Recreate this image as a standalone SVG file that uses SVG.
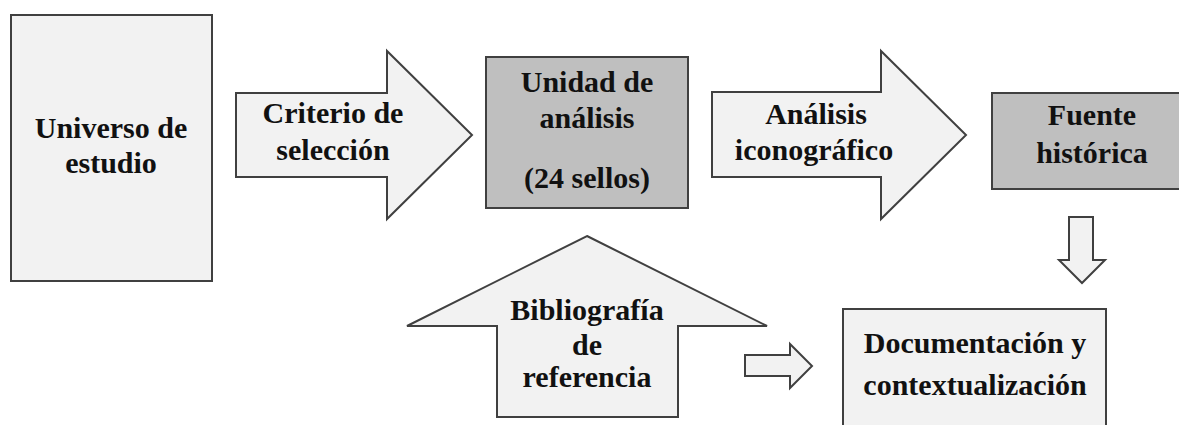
<svg xmlns="http://www.w3.org/2000/svg" width="1179" height="425" viewBox="0 0 1179 425">
<style>
.light{fill:#f2f2f2;stroke:#404040;stroke-width:2;stroke-linejoin:miter}
.dark{fill:#bfbfbf;stroke:#404040;stroke-width:2}
.t{font-family:'Liberation Serif','DejaVu Serif',serif;font-weight:700;font-size:30px;fill:#111;text-anchor:middle}
</style>
<rect width="1179" height="425" fill="#ffffff"/>
<g id="universo">
<rect class="light" x="11" y="15" width="201" height="266"/>
<text class="t" x="111" y="138">Universo de</text>
<text class="t" x="111" y="173">estudio</text>
</g>
<g id="criterio">
<polygon class="light" points="236,93 387,93 387,51 472,135 387,219 387,177 236,177"/>
<text class="t" x="333" y="123">Criterio de</text>
<text class="t" x="333" y="160">selección</text>
</g>
<g id="unidad">
<rect class="dark" x="486" y="57" width="202" height="151"/>
<text class="t" x="587" y="92">Unidad de</text>
<text class="t" x="587" y="128">análisis</text>
<text class="t" x="587" y="188">(24 sellos)</text>
</g>
<g id="analisis">
<polygon class="light" points="712,92 881,92 881,51 966,135 881,219 881,177 712,177"/>
<text class="t" x="816" y="124">Análisis</text>
<text class="t" x="814" y="160">iconográfico</text>
</g>
<g id="fuente">
<rect class="dark" x="992" y="93" width="200" height="96"/>
<text class="t" x="1092" y="125">Fuente</text>
<text class="t" x="1092" y="163">histórica</text>
</g>
<g id="bibliografia">
<polygon class="light" points="587,236 767,326 678,326 678,417 497,417 497,326 407,326"/>
<text class="t" x="587" y="320">Bibliografía</text>
<text class="t" x="587" y="355">de</text>
<text class="t" x="587" y="387">referencia</text>
</g>
<g id="documentacion">
<rect class="light" x="843" y="309" width="263" height="130"/>
<text class="t" x="975" y="353">Documentación y</text>
<text class="t" x="975" y="395">contextualización</text>
</g>
<g id="connectors">
<polygon class="light" points="1069,217 1093,217 1093,260 1105,260 1082,283 1059,260 1069,260"/>
<polygon class="light" points="745,355 790,355 790,344 812,366 790,388 790,376 745,376"/>
</g>
</svg>
